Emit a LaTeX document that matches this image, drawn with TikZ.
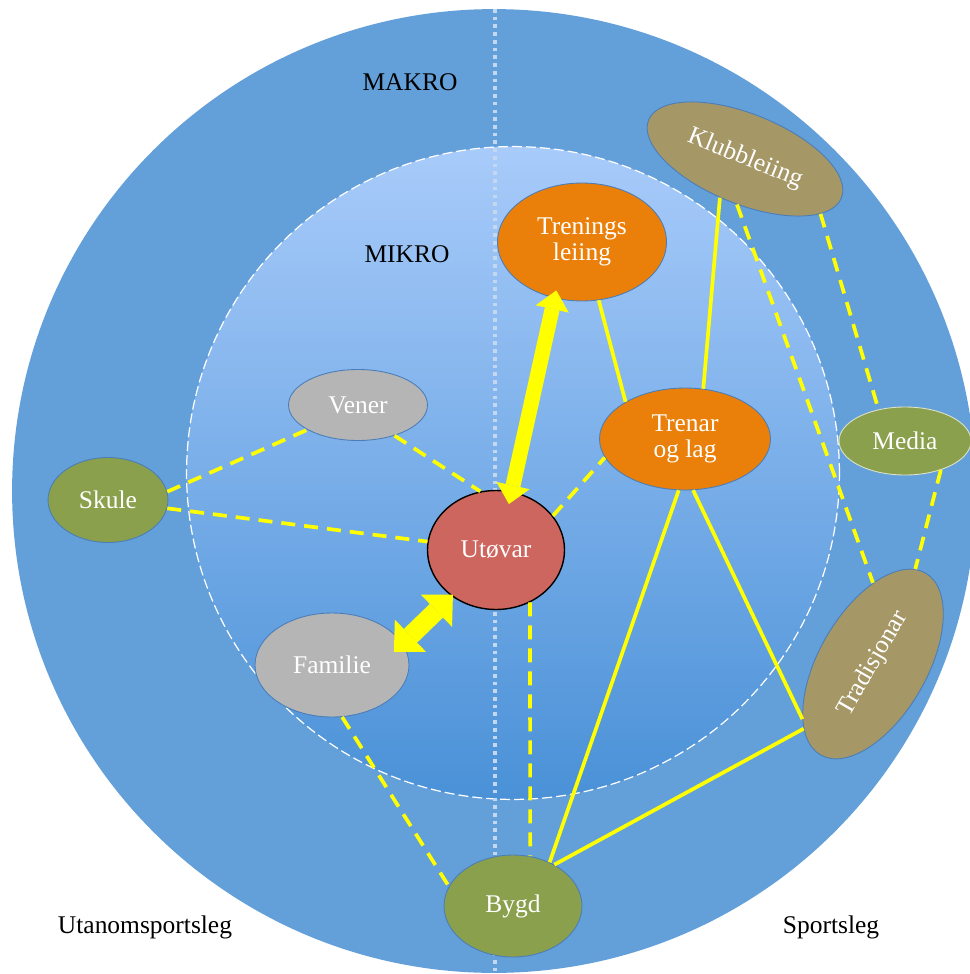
\documentclass[tikz,border=0pt]{standalone}
\usepackage{fontspec}
\setmainfont{Liberation Serif}
\usetikzlibrary{positioning, arrows.meta, shapes.geometric, calc}
\definecolor{makrocolor}{RGB}{99,160,218}
\definecolor{mikrotop}{RGB}{168,203,250}
\definecolor{mikrobottom}{RGB}{74,145,215}
\definecolor{axiscolor}{RGB}{196,215,240}
\definecolor{trenarcolor}{RGB}{234,128,10}
\definecolor{utovarcolor}{RGB}{205,102,94}
\definecolor{naercolor}{RGB}{181,181,181}
\definecolor{miljocolor}{RGB}{138,160,76}
\definecolor{klubbcolor}{RGB}{165,151,102}
\definecolor{randcolor}{RGB}{75,125,185}
\definecolor{linkcolor}{RGB}{255,255,0}
\newcommand{\lblfont}{\fontsize{14.5}{15}\selectfont}

\begin{document}
\begin{tikzpicture}[x=0.02cm, y=-0.02cm,
    bubble/.style={ellipse, draw=randcolor, line width=0.5pt, inner sep=0pt, text=white, font=\lblfont, align=center},
    solidlink/.style={linkcolor, line width=2.1pt},
    dashlink/.style={linkcolor, line width=2.1pt, dash pattern=on 0.28cm off 0.18cm},
    bigarrow/.style={linkcolor}]
    \useasboundingbox (0,0) rectangle (970,974);
    \clip (0,0) rectangle (970,974);

    % Makro (ytre sirkel)
    \fill[makrocolor] (494,491) circle (9.64cm);

    % Mikro (indre sirkel)
    \shade[top color=mikrotop, bottom color=mikrobottom] (513,473) circle (6.53cm);
    \draw[white, line width=0.7pt, dash pattern=on 0.2cm off 0.08cm] (513,473) circle (6.53cm);

    % Skiljelinje
    \draw[axiscolor, line width=2.1pt, dash pattern=on 2.1pt off 2.3pt] (495,9) -- (495,974);

    % Tekstar
    \node[font=\lblfont] (makro) at (410,82) {MAKRO};
    \node[font=\lblfont] (mikro) at (407,254) {MIKRO};
    \node[font=\lblfont] (utanom) at (145,927) {Utanomsportsleg};
    \node[font=\lblfont] (sport) at (831,927) {Sportsleg};

    % Noder
    \node[bubble, fill=utovarcolor, draw=black, line width=0.8pt, minimum width=2.74cm, minimum height=2.38cm] (utovar) at (496,550) {Utøvar};
    \node[bubble, fill=trenarcolor, minimum width=3.38cm, minimum height=2.36cm] (trenings) at (582,242) {Trenings\\leiing};
    \node[bubble, fill=trenarcolor, minimum width=3.42cm, minimum height=2.04cm] (trenar) at (685,439) {Trenar\\og lag};
    \node[bubble, fill=naercolor, minimum width=2.78cm, minimum height=1.42cm] (vener) at (358,405) {Vener};
    \node[bubble, fill=naercolor, minimum width=3.08cm, minimum height=2.08cm] (familie) at (332,665) {Familie};
    \node[bubble, fill=miljocolor, minimum width=2.4cm, minimum height=1.7cm] (skule) at (108,500) {Skule};
    \node[bubble, fill=miljocolor, minimum width=2.76cm, minimum height=2.04cm] (bygd) at (513,906) {Bygd};
    \node[bubble, fill=miljocolor, draw=white!70!miljocolor, minimum width=2.64cm, minimum height=1.36cm] (media) at (905,441) {Media};
    \node[bubble, fill=klubbcolor, rotate=-22, minimum width=4.16cm, minimum height=1.8cm] (klubb) at (745,159) {Klubbleiing};
    \node[bubble, fill=klubbcolor, rotate=60, minimum width=4.2cm, minimum height=2.16cm] (tradisjon) at (873,664) {Tradisjonar};

    % Samband (stipla)
    \draw[dashlink] (skule.8) -- (vener.206);
    \draw[dashlink] (skule.-8) -- (utovar.173);
    \draw[dashlink] (vener.-40) -- (utovar.105);
    \draw[dashlink] (utovar.31) -- (trenar.193);
    \draw[dashlink] (utovar.-57) -- (bygd.71);
    \draw[dashlink] (familie.-79) -- (bygd.163);
    \draw[dashlink] (klubb.-78) -- (tradisjon.30);
    \draw[dashlink] (klubb.-14) -- (media.130);
    \draw[dashlink] (media.-39) -- (tradisjon.6);

    % Samband (heile)
    \draw[solidlink] (trenings.-74) -- (trenar.148);
    \draw[solidlink] (klubb.-101) -- (trenar.70);
    \draw[solidlink] (trenar.-97) -- (bygd.50);
    \draw[solidlink] (trenar.-81) -- (tradisjon.158);
    \draw[solidlink] (bygd.45) -- (tradisjon.163);

    % Piler
    \draw[bigarrow, line width=0.3cm, {Triangle[width=0.68cm, length=0.38cm, line width=0pt]}-{Triangle[width=0.68cm, length=0.38cm, line width=0pt]}, shorten <=-0.26cm, shorten >=-0.16cm] (utovar.75) -- (trenings.244);
    \draw[bigarrow, line width=0.38cm, {Triangle[width=0.9cm, length=0.46cm, line width=0pt]}-{Triangle[width=0.9cm, length=0.46cm, line width=0pt]}, shorten <=-0.04cm, shorten >=-0.24cm] (utovar.226) -- (familie.17);
\end{tikzpicture}
\end{document}
